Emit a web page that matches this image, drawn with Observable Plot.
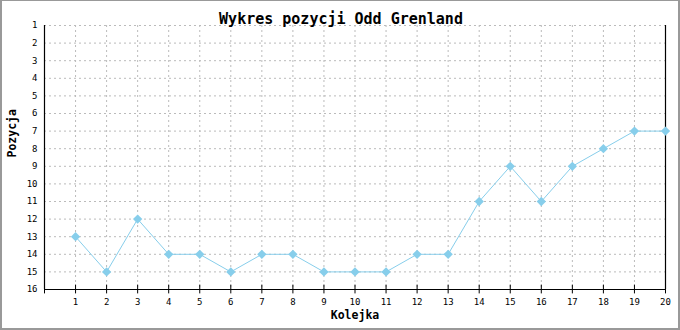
<!DOCTYPE html>
<html>
<head>
<meta charset="utf-8">
<script src="https://cdn.jsdelivr.net/npm/d3@7"></script>
<script src="https://cdn.jsdelivr.net/npm/@observablehq/plot@0.6"></script>
<style>
  html, body { margin: 0; padding: 0; background: #fff; }
  #wrap { position: relative; width: 680px; height: 330px; overflow: hidden; }
  #border { position: absolute; left: 0; top: 0; width: 680px; height: 330px; box-sizing: border-box;
    border-top: 1px solid #999; border-left: 2px solid #999; border-right: 2px solid #999; border-bottom: 2px solid #999; pointer-events: none; }
  svg { display: block; }
</style>
</head>
<body>
<div id="wrap"><div id="border"></div></div>
<script>
const title = "Wykres pozycji Odd Grenland";
const xLabel = "Kolejka";
const yLabel = "Pozycja";
const rounds = [1,2,3,4,5,6,7,8,9,10,11,12,13,14,15,16,17,18,19,20];
const positions = [13,15,12,14,14,15,14,14,15,15,15,14,14,11,9,11,9,8,7,7];
const yTicks = [1,2,3,4,5,6,7,8,9,10,11,12,13,14,15,16];
const xTicks = [0, ...rounds];

const data = rounds.map((r, i) => ({round: r, pos: positions[i]}));
const mono = "DejaVu Sans Mono, monospace";
const lineColor = "#87CEEB";

const chart = Plot.plot({
  width: 680,
  height: 330,
  marginLeft: 44,
  marginRight: 15,
  marginTop: 25,
  marginBottom: 41,
  style: {fontFamily: mono, fontSize: "9px", color: "#000", background: "transparent"},
  x: {domain: [0, 20]},
  y: {domain: [1, 16], reverse: true},
  marks: [
    Plot.gridX(rounds.slice(0, -1), {stroke: "#bbb", strokeOpacity: 1, strokeDasharray: "2,3"}),
    Plot.gridY(yTicks.slice(0, -1), {stroke: "#bbb", strokeOpacity: 1, strokeDasharray: "2,3"}),
    Plot.ruleX([0, 20], {stroke: "#000", strokeWidth: 1.2}),
    Plot.ruleY([16], {stroke: "#000", strokeWidth: 1.2}),
    Plot.ruleX(xTicks, {x: d => d, y1: 15.75, y2: 16.25, stroke: "#000"}),
    Plot.axisX(rounds, {tickSize: 0, tickPadding: 9, label: null, fontSize: 9}),
    Plot.axisY(yTicks, {tickSize: 0, tickPadding: 7, label: null, fontSize: 9}),
    Plot.line(data, {x: "round", y: "pos", stroke: lineColor, strokeWidth: 1}),
    Plot.dot(data, {x: "round", y: "pos", symbol: "diamond2", r: 4.2, fill: lineColor, stroke: "none"}),
    Plot.text([title], {frameAnchor: "top", dx: -14, dy: -12, fontSize: 15, fontWeight: "bold", fontFamily: mono, fill: "#000"}),
    Plot.text([xLabel], {frameAnchor: "bottom", dy: 29, fontSize: 11.5, fontWeight: "bold", fontFamily: mono, fill: "#000"}),
    Plot.text([yLabel], {frameAnchor: "left", dx: -32, rotate: -90, fontSize: 11.5, fontWeight: "bold", fontFamily: mono, fill: "#000"})
  ]
});
document.getElementById("wrap").prepend(chart);
</script>
</body>
</html>
